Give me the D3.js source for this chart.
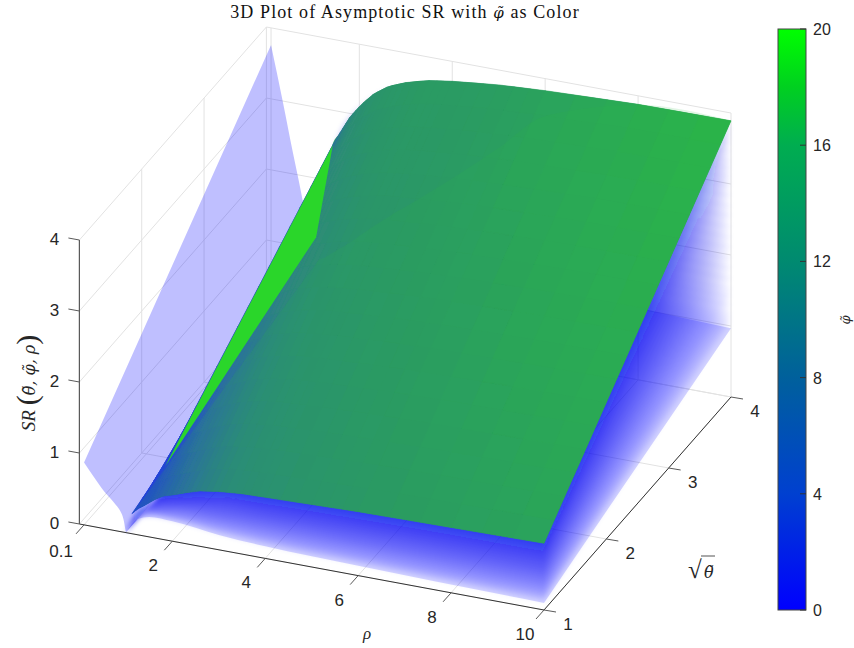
<!DOCTYPE html>
<html>
<head>
<meta charset="utf-8">
<script src="https://cdn.jsdelivr.net/npm/d3@7"></script>
<style>
    body { margin: 0; background: #fff; }
    text { fill: #262626; font-family: "Liberation Sans", sans-serif; }
    .math { font-family: "Liberation Serif", serif; }
    .accent { font-family: "DejaVu Serif", serif; }
</style>
</head>
<body>
<svg id="svg" width="854" height="648"></svg>
<script>
// ticks
const rhoTicks = [0.1, 2, 4, 6, 8, 10]
const rootTicks = [1, 2, 3, 4]
const srTicks = [0, 1, 2, 3, 4]
const phiTicks = [0, 4, 8, 12, 16, 20]

// colour bar
const barPhi = [0, 4, 8, 12, 16, 18, 20]
const barColors = ['#0000ff', '#0040d0', '#00609c', '#008a70', '#00ad50', '#00d020', '#00ff00']

// phi = 0 surface, SR along the sqrt(theta) = 1 edge and the sqrt(theta) = 4 edge
const peakRho = [0.1, 0.36, 0.57, 0.66, 0.79, 0.87, 0.95, 1]
const peakNear = [0.88, 0.66, 0.5, 0.447, 0.36, 0.3, 0.18, 0]
const peakFar = [3.76, 2.97, 2.3, 2.03, 1.62, 1.33, 0.9, 0]
const baseRho = [1, 1.25, 1.5, 2, 3, 4, 6, 10]
const baseNear = [0, 0.22, 0.28, 0.28, 0.21, 0.17, 0.14, 0.1]
const baseFar = [0, 1.1, 1.6, 1.9, 1.65, 1.4, 1.15, 0.97]

// low phi surfaces between the phi = 0 one and the top sheet.
// rough estimates from how the blue bands darken, one row per surface
const fanRho = [1, 1.25, 1.5, 2, 3, 4, 6, 10]
const fanPhi = [0.1, 0.2, 0.3, 0.4, 0.5, 0.6, 0.7, 0.8, 0.9, 1, 1.1, 1.2, 1.3, 1.4, 1.5, 1.6, 1.7, 1.8, 1.9, 2, 2.2, 2.4, 2.6, 2.8]
const fanNear = [
    [0, .22, .28, .29, .22, .18, .16, .12],
    [0, .23, .29, .30, .24, .20, .18, .14],
    [0, .23, .30, .31, .26, .23, .20, .17],
    [0, .24, .31, .32, .28, .25, .23, .20],
    [0, .24, .32, .34, .31, .28, .26, .23],
    [0, .25, .32, .35, .33, .31, .29, .27],
    [0, .26, .34, .37, .36, .34, .33, .31],
    [0, .26, .35, .39, .39, .38, .37, .35],
    [0, .27, .36, .41, .42, .41, .41, .39],
    [0, .28, .37, .43, .45, .45, .44, .44],
    [0, .28, .38, .45, .48, .48, .48, .48],
    [0, .29, .39, .47, .51, .52, .52, .52],
    [0, .30, .40, .48, .55, .55, .56, .56],
    [0, .30, .41, .50, .58, .58, .60, .60],
    [0, .31, .42, .52, .61, .62, .63, .65],
    [0, .32, .43, .54, .64, .65, .67, .69],
    [0, .32, .44, .55, .66, .68, .70, .72],
    [0, .33, .45, .57, .69, .71, .73, .76],
    [0, .33, .46, .58, .71, .74, .76, .79],
    [0, .34, .47, .60, .73, .76, .79, .82],
    [0, .35, .48, .61, .76, .79, .82, .86],
    [0, .35, .48, .62, .78, .81, .85, .88],
    [0, .35, .49, .64, .80, .83, .87, .91],
    [0, .36, .50, .64, .81, .85, .88, .92]
]
const fanFar = [
    [0, 1.12, 1.62, 1.93, 1.69, 1.45, 1.20, 1.03],
    [0, 1.14, 1.65, 1.96, 1.75, 1.52, 1.28, 1.12],
    [0, 1.16, 1.68, 2.00, 1.80, 1.59, 1.36, 1.20],
    [0, 1.20, 1.72, 2.05, 1.88, 1.68, 1.47, 1.32],
    [0, 1.23, 1.76, 2.10, 1.96, 1.77, 1.58, 1.44],
    [0, 1.26, 1.80, 2.15, 2.04, 1.86, 1.69, 1.55],
    [0, 1.30, 1.85, 2.21, 2.13, 1.98, 1.82, 1.70],
    [0, 1.34, 1.90, 2.28, 2.23, 2.10, 1.95, 1.85],
    [0, 1.38, 1.95, 2.34, 2.33, 2.21, 2.09, 1.99],
    [0, 1.42, 2.00, 2.40, 2.42, 2.33, 2.22, 2.14],
    [0, 1.46, 2.05, 2.46, 2.52, 2.44, 2.36, 2.28],
    [0, 1.50, 2.10, 2.53, 2.62, 2.56, 2.49, 2.43],
    [0, 1.54, 2.15, 2.59, 2.71, 2.68, 2.62, 2.58],
    [0, 1.58, 2.20, 2.65, 2.81, 2.79, 2.76, 2.72],
    [0, 1.62, 2.25, 2.71, 2.90, 2.91, 2.89, 2.87],
    [0, 1.66, 2.30, 2.78, 3.00, 3.02, 3.03, 3.01],
    [0, 1.69, 2.34, 2.83, 3.08, 3.12, 3.13, 3.13],
    [0, 1.72, 2.38, 2.88, 3.16, 3.21, 3.24, 3.25],
    [0, 1.76, 2.42, 2.93, 3.23, 3.30, 3.35, 3.36],
    [0, 1.79, 2.46, 2.98, 3.31, 3.40, 3.45, 3.48],
    [0, 1.82, 2.50, 3.03, 3.39, 3.49, 3.56, 3.60],
    [0, 1.84, 2.53, 3.06, 3.44, 3.56, 3.64, 3.69],
    [0, 1.87, 2.56, 3.10, 3.50, 3.63, 3.72, 3.77],
    [0, 1.88, 2.58, 3.13, 3.54, 3.67, 3.78, 3.83]
]

// top sheet, all the high phi surfaces piled up
const sheetRho = [1.13, 1.25, 1.4, 1.6, 1.8, 2, 2.3, 2.6, 3, 3.5, 4, 5, 6, 8, 10]
const sheetNear = [.28, .36, .43, .53, .61, .65, .72, .78, .82, .85, .86, .88, .90, .92, .94]
const sheetFar = [1.18, 1.85, 2.47, 2.72, 2.95, 3.12, 3.33, 3.47, 3.58, 3.67, 3.72, 3.79, 3.83, 3.88, 3.89]
// how far along the colours the pile looks at each point of the two edges
const tintNear = [1, 1, 1.5, 2.5, 3.5, 4.5, 5.5, 7, 8.5, 9.5, 10, 11, 11.5, 13, 14]
const tintFar = [5, 5, 6, 7, 9, 10.5, 11.5, 12, 12.5, 13, 13, 13.5, 14.5, 17, 20]
// back edge of the lighter part of the sheet
const lightFar = [.86, .90, .98, 1.08, 1.18, 1.3, 1.47, 1.63, 1.83, 2.09, 2.35, 2.9, 3.47, 3.87, 3.89]

// phi = 20 wedge on the ridge
const wedgeRho = [1.43, 1.07, 1.18]
const wedgeRoot = [4, 4, 1.5]
const wedgeSR = [2.51, 1.17, 0.46]

const svg = d3.select("#svg")

// the box is an orthographic view, each data axis adds its own screen offset
const xRho = d3.scaleLinear().domain([0, 10]).range([79.4, 544])
const yRho = d3.scaleLinear().domain([0, 10]).range([524, 610])
const xRoot = d3.scaleLinear().domain([1, 4]).range([0, 187])
const yRoot = d3.scaleLinear().domain([1, 4]).range([0, -213])
const ySR = d3.scaleLinear().domain([0, 4]).range([0, -284])
const project = (r, s, z) => [xRho(r) + xRoot(s), yRho(r) + yRoot(s) + ySR(z)]

const barY = d3.scaleLinear().domain([0, 20]).range([610, 29])
const phiColor = d3.scaleLinear().domain(barPhi).range(barColors)
const sheetColor = d3.scaleLinear()
    .domain([0, 3, 6, 9, 12, 15, 20])
    .range(['#1f35e8', '#2650c8', '#2b6ea0', '#2d8580', '#2c9668', '#2ba55a', '#2cb548'])

const segment = (a, b, color, width) => svg.append('line')
    .attr('x1', a[0]).attr('y1', a[1]).attr('x2', b[0]).attr('y2', b[1])
    .attr('stroke', color).attr('stroke-width', width)

// walls and floor
const gridColor = '#e2e2e2'
srTicks.forEach(z => {
    segment(project(0, 1, z), project(0, 4, z), gridColor, 1)
    segment(project(0, 4, z), project(10, 4, z), gridColor, 1)
})
rhoTicks.forEach(r => {
    segment(project(r, 1, 0), project(r, 4, 0), gridColor, 1)
    segment(project(r, 4, 0), project(r, 4, 4), gridColor, 1)
})
rootTicks.forEach(s => {
    segment(project(0, s, 0), project(10, s, 0), gridColor, 1)
    segment(project(0, s, 0), project(0, s, 4), gridColor, 1)
})

// surfaces, lowest first
const defs = svg.append('defs')
defs.append('filter').attr('id', 'soft').append('feGaussianBlur').attr('stdDeviation', 0.7)
defs.append('filter').attr('id', 'softer').append('feGaussianBlur').attr('stdDeviation', 2.6)

const edge = d3.line().curve(d3.curveMonotoneX)
const ruled = (rho, near, far) => {
    const a = rho.map((r, i) => project(r, 1, near[i]))
    const b = rho.map((r, i) => project(r, 4, far[i])).reverse()
    return edge(a) + 'L' + edge(b).slice(1) + 'Z'
}

const lower = svg.append('g').attr('filter', 'url(#soft)')
lower.append('path')
    .attr('d', ruled(peakRho, peakNear, peakFar))
    .attr('fill', phiColor(0))
    .attr('fill-opacity', 0.25)
lower.append('path')
    .attr('d', ruled(baseRho, baseNear, baseFar))
    .attr('fill', phiColor(0))
    .attr('fill-opacity', 0.17)

const fan = svg.append('g').attr('filter', 'url(#softer)')
fan.selectAll('path').data(fanPhi).join('path')
    .attr('d', (d, i) => ruled(fanRho, fanNear[i], fanFar[i]))
    .attr('fill', d => phiColor(d))
    .attr('fill-opacity', 0.062)

const surfaces = svg.append('g').attr('filter', 'url(#soft)')

// rounds off the sheet outline behind the cells
surfaces.append('path')
    .attr('d', ruled(sheetRho, sheetNear, sheetFar))
    .attr('fill', '#2a9a66')

// sheet cells carry the colour, so split the rows for a smooth shade
const cells = []
const acrossSteps = 18
const alongSteps = 3
sheetRho.slice(1).forEach((r1, i) => {
    for (let a = 0; a < alongSteps; ++a) {
        for (let b = 0; b < acrossSteps; ++b) {
            cells.push({i, a0: a / alongSteps, a1: (a + 1) / alongSteps, b0: b / acrossSteps, b1: (b + 1) / acrossSteps})
        }
    }
})
const lerp = (u, v, t) => u + (v - u) * t
const sheetPoint = (i, a, b) => {
    const r = lerp(sheetRho[i], sheetRho[i + 1], a)
    const z0 = lerp(sheetNear[i], sheetNear[i + 1], a)
    const z1 = lerp(sheetFar[i], sheetFar[i + 1], a)
    const p = project(r, 1, z0)
    const q = project(r, 4, z1)
    return [lerp(p[0], q[0], b), lerp(p[1], q[1], b)]
}
const cellColor = c => {
    const a = (c.a0 + c.a1) / 2
    const b = (c.b0 + c.b1) / 2
    const t0 = lerp(tintNear[c.i], tintNear[c.i + 1], a)
    const t1 = lerp(tintFar[c.i], tintFar[c.i + 1], a)
    return sheetColor(lerp(t0, t1, b))
}
surfaces.selectAll('path.cell').data(cells).join('path')
    .attr('class', 'cell')
    .attr('d', c => d3.line()([
        sheetPoint(c.i, c.a0, c.b0), sheetPoint(c.i, c.a1, c.b0),
        sheetPoint(c.i, c.a1, c.b1), sheetPoint(c.i, c.a0, c.b1)
    ]) + 'Z')
    .attr('fill', cellColor)
    .attr('stroke', cellColor)
    .attr('stroke-width', 0.6)

surfaces.append('path')
    .attr('d', ruled(sheetRho, sheetNear, lightFar))
    .attr('fill', '#2cb848')
    .attr('fill-opacity', 0.14)

surfaces.append('path')
    .attr('d', d3.line()(wedgeRho.map((r, i) => project(r, wedgeRoot[i], wedgeSR[i]))) + 'Z')
    .attr('fill', '#2cd62c')

// axes
const axisColor = '#5a5a5a'
segment(project(0, 1, 0), project(10, 1, 0), '#333', 1)
segment(project(10, 1, 0), project(10, 4, 0), '#333', 1)
segment(project(0, 1, 0), project(0, 1, 4), axisColor, 1.2)

rhoTicks.forEach(r => {
    const p = project(r, 1, 0)
    segment(p, [p[0] - 8, p[1] + 9], axisColor, 1)
    svg.append('text').attr('x', p[0] - (r < 1 ? 23 : 19)).attr('y', p[1] + (r < 1 ? 32 : 30))
        .attr('text-anchor', 'middle').attr('font-size', 17).text(r)
})
rootTicks.forEach(s => {
    const p = project(10, s, 0)
    segment(p, [p[0] + 12, p[1] + 2], axisColor, 1)
    svg.append('text').attr('x', p[0] + 24).attr('y', p[1] + 20)
        .attr('text-anchor', 'middle').attr('font-size', 17).text(s)
})
srTicks.forEach(z => {
    const p = project(0, 1, z)
    segment(p, [p[0] - 11, p[1] - 2], axisColor, 1)
    svg.append('text').attr('x', p[0] - 25).attr('y', p[1] + 5)
        .attr('text-anchor', 'middle').attr('font-size', 17).text(z)
})

// colour bar
defs.append('linearGradient').attr('id', 'bar')
    .attr('x1', 0).attr('x2', 0).attr('y1', 1).attr('y2', 0)
    .selectAll('stop').data(barPhi).join('stop')
    .attr('offset', d => d / 20)
    .attr('stop-color', d => phiColor(d))
svg.append('rect').attr('x', 778).attr('y', barY(20)).attr('width', 28).attr('height', barY(0) - barY(20))
    .attr('fill', 'url(#bar)').attr('stroke', '#444').attr('stroke-width', 1)
phiTicks.forEach(d => {
    segment([800, barY(d)], [806, barY(d)], '#333', 1)
    svg.append('text').attr('x', 813).attr('y', barY(d) + 6).attr('font-size', 16).text(d)
})

// titles
svg.append('text').attr('class', 'math').attr('x', 405).attr('y', 18)
    .attr('text-anchor', 'middle').attr('font-size', 18).attr('letter-spacing', 1.1).style('fill', '#111')
    .html('3D Plot of Asymptotic SR with <tspan class="accent" font-style="italic" font-size="15">φ̃</tspan> as Color')
svg.append('text').attr('class', 'math').attr('x', 367).attr('y', 639)
    .attr('text-anchor', 'middle').attr('font-size', 17).attr('font-style', 'italic').text('ρ')
svg.append('text').attr('class', 'math').attr('x', 688).attr('y', 578).attr('font-size', 25).text('√')
svg.append('text').attr('class', 'accent').attr('x', 704).attr('y', 578)
    .attr('font-size', 16).attr('font-style', 'italic').text('θ̃')
segment([701, 556], [715, 556], '#262626', 0.8)
svg.append('text').attr('class', 'accent').attr('transform', 'translate(850,320) rotate(-90)')
    .attr('text-anchor', 'middle').attr('font-size', 13).attr('font-style', 'italic').text('φ̃')
svg.append('text').attr('class', 'math').attr('transform', 'translate(35,383) rotate(-90)')
    .attr('text-anchor', 'middle').attr('font-size', 19)
    .html('<tspan font-style="italic">SR</tspan> <tspan font-size="30" dy="2">(</tspan><tspan class="accent" dy="-2" font-size="16" font-style="italic">θ̃, φ̃, ρ</tspan><tspan font-size="30" dy="2">)</tspan>')
</script>
</body>
</html>
